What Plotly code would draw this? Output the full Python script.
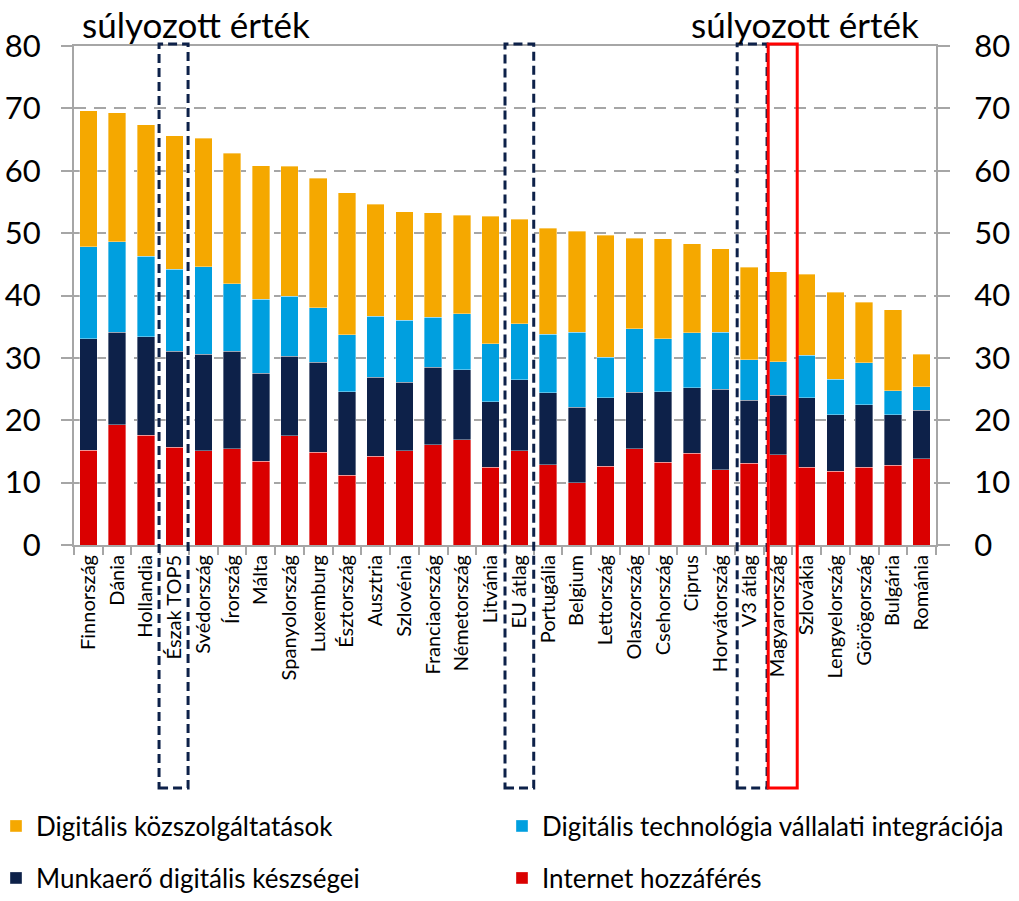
import plotly.graph_objects as go

categories = ["Finnország", "Dánia", "Hollandia", "Észak TOP5", "Svédország", "Írország", "Málta",
              "Spanyolország", "Luxemburg", "Észtország", "Ausztria", "Szlovénia", "Franciaország",
              "Németország", "Litvánia", "EU átlag", "Portugália", "Belgium", "Lettország",
              "Olaszország", "Csehország", "Ciprus", "Horvátország", "V3 átlag", "Magyarország",
              "Szlovákia", "Lengyelország", "Görögország", "Bulgária", "Románia"]

internet = [15.2, 19.3, 17.6, 15.7, 15.1, 15.4, 13.4, 17.5, 14.9, 11.2, 14.2, 15.1, 16.1, 16.9, 12.5,
            15.1, 12.9, 10.0, 12.6, 15.4, 13.3, 14.7, 12.1, 13.1, 14.5, 12.5, 11.8, 12.5, 12.8, 13.8]
munkaero = [17.9, 14.8, 15.8, 15.4, 15.5, 15.7, 14.1, 12.8, 14.4, 13.4, 12.7, 11.0, 12.4, 11.2, 10.5,
            11.4, 11.5, 12.1, 11.0, 9.1, 11.3, 10.5, 12.9, 10.1, 9.5, 11.1, 9.1, 10.0, 8.1, 7.8]
vallalati = [14.7, 14.5, 12.9, 13.1, 14.0, 10.8, 11.9, 9.6, 8.7, 9.1, 9.8, 9.9, 8.0, 9.0, 9.3,
             9.0, 9.4, 12.0, 6.5, 10.2, 8.5, 8.8, 9.1, 6.5, 5.4, 6.8, 5.7, 6.7, 3.8, 3.8]
kozszolg = [21.8, 20.7, 21.1, 21.4, 20.6, 20.9, 21.4, 20.8, 20.8, 22.8, 17.9, 17.4, 16.8, 15.8, 20.4,
            16.7, 17.0, 16.2, 19.6, 14.5, 16.0, 14.3, 13.4, 14.8, 14.4, 13.0, 13.9, 9.7, 13.0, 5.2]

y_ticks = [0, 10, 20, 30, 40, 50, 60, 70, 80]

# plot area in pixels
L, R, T, B = 74, 936, 46, 545
W, H = R - L, B - T


def px_x(p):
    return (p - L) / W


def px_y(p):
    return (B - p) / H


series = [
    ("Internet hozzáférés", internet, "#DA0000", "legend4"),
    ("Munkaerő digitális készségei", munkaero, "#0D2149", "legend3"),
    ("Digitális technológia vállalati integrációja", vallalati, "#009FDF", "legend2"),
    ("Digitális közszolgáltatások", kozszolg, "#F5A800", "legend"),
]

FONT = "Lato"
fig = go.Figure()
for name, vals, col, lg in series:
    fig.add_trace(go.Bar(x=categories, y=vals, name=name, marker_color=col,
                         marker_line=dict(width=0.6, color="rgba(255,255,255,0.6)"),
                         legend=lg))

# invisible trace for right axis
fig.add_trace(go.Scatter(x=[categories[0]], y=[0], yaxis="y2", mode="markers",
                         marker=dict(opacity=0, size=1), showlegend=False, hoverinfo="skip"))

gray = "#A6A6A6"
legend_font = dict(size=26, family=FONT, color="#000000")


def leg(xp, yp):
    return dict(orientation="h", x=px_x(xp), y=px_y(yp), xanchor="left", yanchor="middle",
                font=legend_font, bgcolor="rgba(0,0,0,0)")


fig.update_layout(
    barmode="stack",
    bargap=0.39,
    width=1019, height=901,
    margin=dict(l=L, r=1019 - R, t=T, b=901 - B, autoexpand=False),
    plot_bgcolor="white", paper_bgcolor="white",
    font=dict(family=FONT, color="#000000"),
    xaxis=dict(type="category", range=[-0.5, len(categories) - 0.5], tickangle=-90,
               tickfont=dict(size=20, family=FONT),
               showline=True, linecolor=gray, linewidth=2, ticks="outside", mirror=True,
               tickson="boundaries", ticklen=8, tickcolor=gray, tickwidth=2,
               showgrid=False, automargin=False),
    yaxis=dict(range=[0, 80], tickvals=y_ticks, tickfont=dict(size=31, family=FONT),
               showline=True, linecolor=gray, linewidth=2, ticks="outside", ticklen=11,
               tickcolor=gray, tickwidth=2, gridcolor=gray, gridwidth=2,
               griddash="12px,8px", zeroline=False, ticklabelstandoff=14, automargin=False),
    yaxis2=dict(range=[0, 80], tickvals=y_ticks, overlaying="y", side="right",
                tickfont=dict(size=31, family=FONT), showline=True, linecolor=gray,
                linewidth=2, ticks="outside", ticklen=12, tickcolor=gray, tickwidth=2,
                showgrid=False, zeroline=False, ticklabelstandoff=18, automargin=False),
    legend=leg(-4, 826),
    legend2=leg(502, 826),
    legend3=leg(-4, 878),
    legend4=leg(502, 878),
    showlegend=True,
)

navy = "#0D2149"
boxes = [(3, -0.54, 0.47, navy, "9px,5px"), (15, -0.5, 0.5, navy, "9px,5px"),
         (23, -0.42, 0.62, navy, "9px,5px"), (24, -0.34, 0.67, "#FF0000", "solid")]
for idx, d0, d1, col, dash in boxes:
    fig.add_shape(type="rect", xref="x", yref="paper", x0=idx + d0, x1=idx + d1,
                  y0=px_y(788), y1=px_y(44), line=dict(color=col, width=3, dash=dash),
                  fillcolor="rgba(0,0,0,0)", layer="above")

for xc in [196, 805]:
    fig.add_annotation(text="súlyozott érték", xref="paper", yref="paper",
                       x=px_x(xc), y=px_y(24), xanchor="center", yanchor="middle",
                       showarrow=False, font=dict(size=35, family=FONT, color="#000000"))

fig.write_html("out.html", config={"displayModeBar": False},
               post_script="document.body.style.margin='0';")
